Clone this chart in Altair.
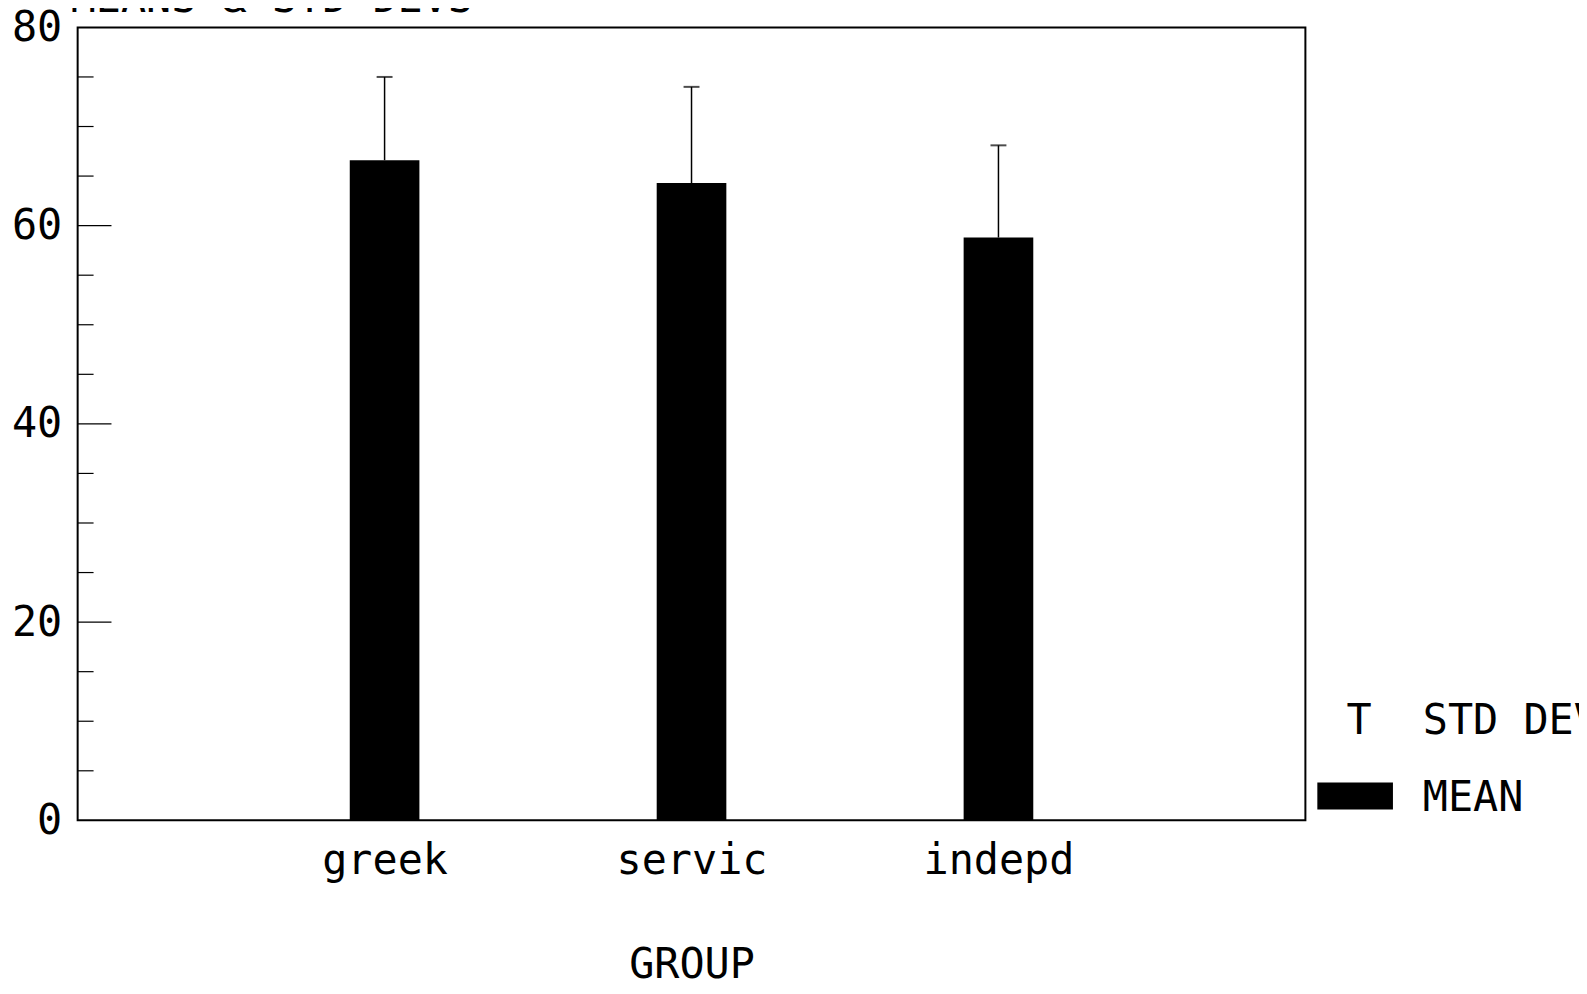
import altair as alt
import pandas as pd

groups = ["greek", "servic", "indepd"]
means = [66.6, 64.3, 58.8]
sds = [8.4, 9.7, 9.3]
y_labels = [0, 20, 40, 60, 80]
minor_ticks = [5, 10, 15, 25, 30, 35, 45, 50, 55, 65, 70, 75]
major_ticks = [20, 40, 60]

FONT = "DejaVu Sans Mono"
FS = 42

df = pd.DataFrame({"group": groups, "mean": means, "sd": sds})
df["top"] = df["mean"] + df["sd"]
one = pd.DataFrame({"a": [0]})

xscale = alt.Scale(type="point", padding=1, domain=groups)
yscale = alt.Scale(domain=[0, 80], nice=False, zero=True)

xaxis = alt.Axis(title="GROUP", labelAngle=0, ticks=False, domain=False, grid=False,
                 labelFontSize=FS, labelPadding=20, titleFontSize=FS, titlePadding=64,
                 labelFont=FONT, titleFont=FONT, titleFontWeight="normal",
                 labelColor="black", titleColor="black")
yaxis = alt.Axis(values=y_labels, title=None, ticks=False, tickSize=0, domain=False, grid=False,
                 labelFontSize=FS, labelPadding=16, labelFont=FONT, labelColor="black")


def X(field="group"):
    return alt.X(f"{field}:N", scale=xscale, axis=xaxis, title="GROUP")


def Y(field):
    return alt.Y(f"{field}:Q", scale=yscale, axis=yaxis, title=None)


bars = alt.Chart(df).mark_bar(color="black", size=70).encode(x=X(), y=Y("mean"))
err = alt.Chart(df).mark_rule(color="black", strokeWidth=1.5).encode(
    x=X(), y=Y("mean"), y2=alt.Y2("top:Q"))
cap = alt.Chart(df).mark_tick(color="black", thickness=2, size=16, orient="horizontal").encode(
    x=X(), y=Y("top"))

minor_df = pd.DataFrame({"v": minor_ticks})
major_df = pd.DataFrame({"v": major_ticks})
minor = alt.Chart(minor_df).mark_rule(color="black", strokeWidth=1.2).encode(
    y=Y("v"), x=alt.value(0), x2=alt.value(16))
major = alt.Chart(major_df).mark_rule(color="black", strokeWidth=1.2).encode(
    y=Y("v"), x=alt.value(0), x2=alt.value(34))

title = alt.Chart(one).mark_text(text="MEANS & STD DEVS", font=FONT, fontSize=FS, align="left",
                                 baseline="alphabetic", color="black").encode(
    x=alt.value(-7), y=alt.value(-15))

leg_t = alt.Chart(one).mark_text(text="T", font=FONT, fontSize=FS, align="center",
                                 baseline="middle", color="black", fontWeight=200).encode(
    x=alt.value(1288), y=alt.value(697))
leg_std = alt.Chart(one).mark_text(text="STD DEV", font=FONT, fontSize=FS, align="left",
                                   baseline="middle", color="black").encode(
    x=alt.value(1352), y=alt.value(697))
leg_rect = alt.Chart(one).mark_rect(color="black").encode(
    x=alt.value(1246), x2=alt.value(1322), y=alt.value(759), y2=alt.value(786))
leg_mean = alt.Chart(one).mark_text(text="MEAN", font=FONT, fontSize=FS, align="left",
                                    baseline="middle", color="black").encode(
    x=alt.value(1352), y=alt.value(775))

chart = alt.layer(bars, err, cap, minor, major, title, leg_t, leg_std, leg_rect, leg_mean).properties(
    width=1234, height=797,
    autosize=alt.AutoSizeParams(type="none"),
    padding={"left": 70, "top": 17, "right": 275, "bottom": 164},
    background="white",
).configure_view(stroke="black", strokeWidth=2)

chart.save("out.html", embed_options={"renderer": "svg", "actions": False})
